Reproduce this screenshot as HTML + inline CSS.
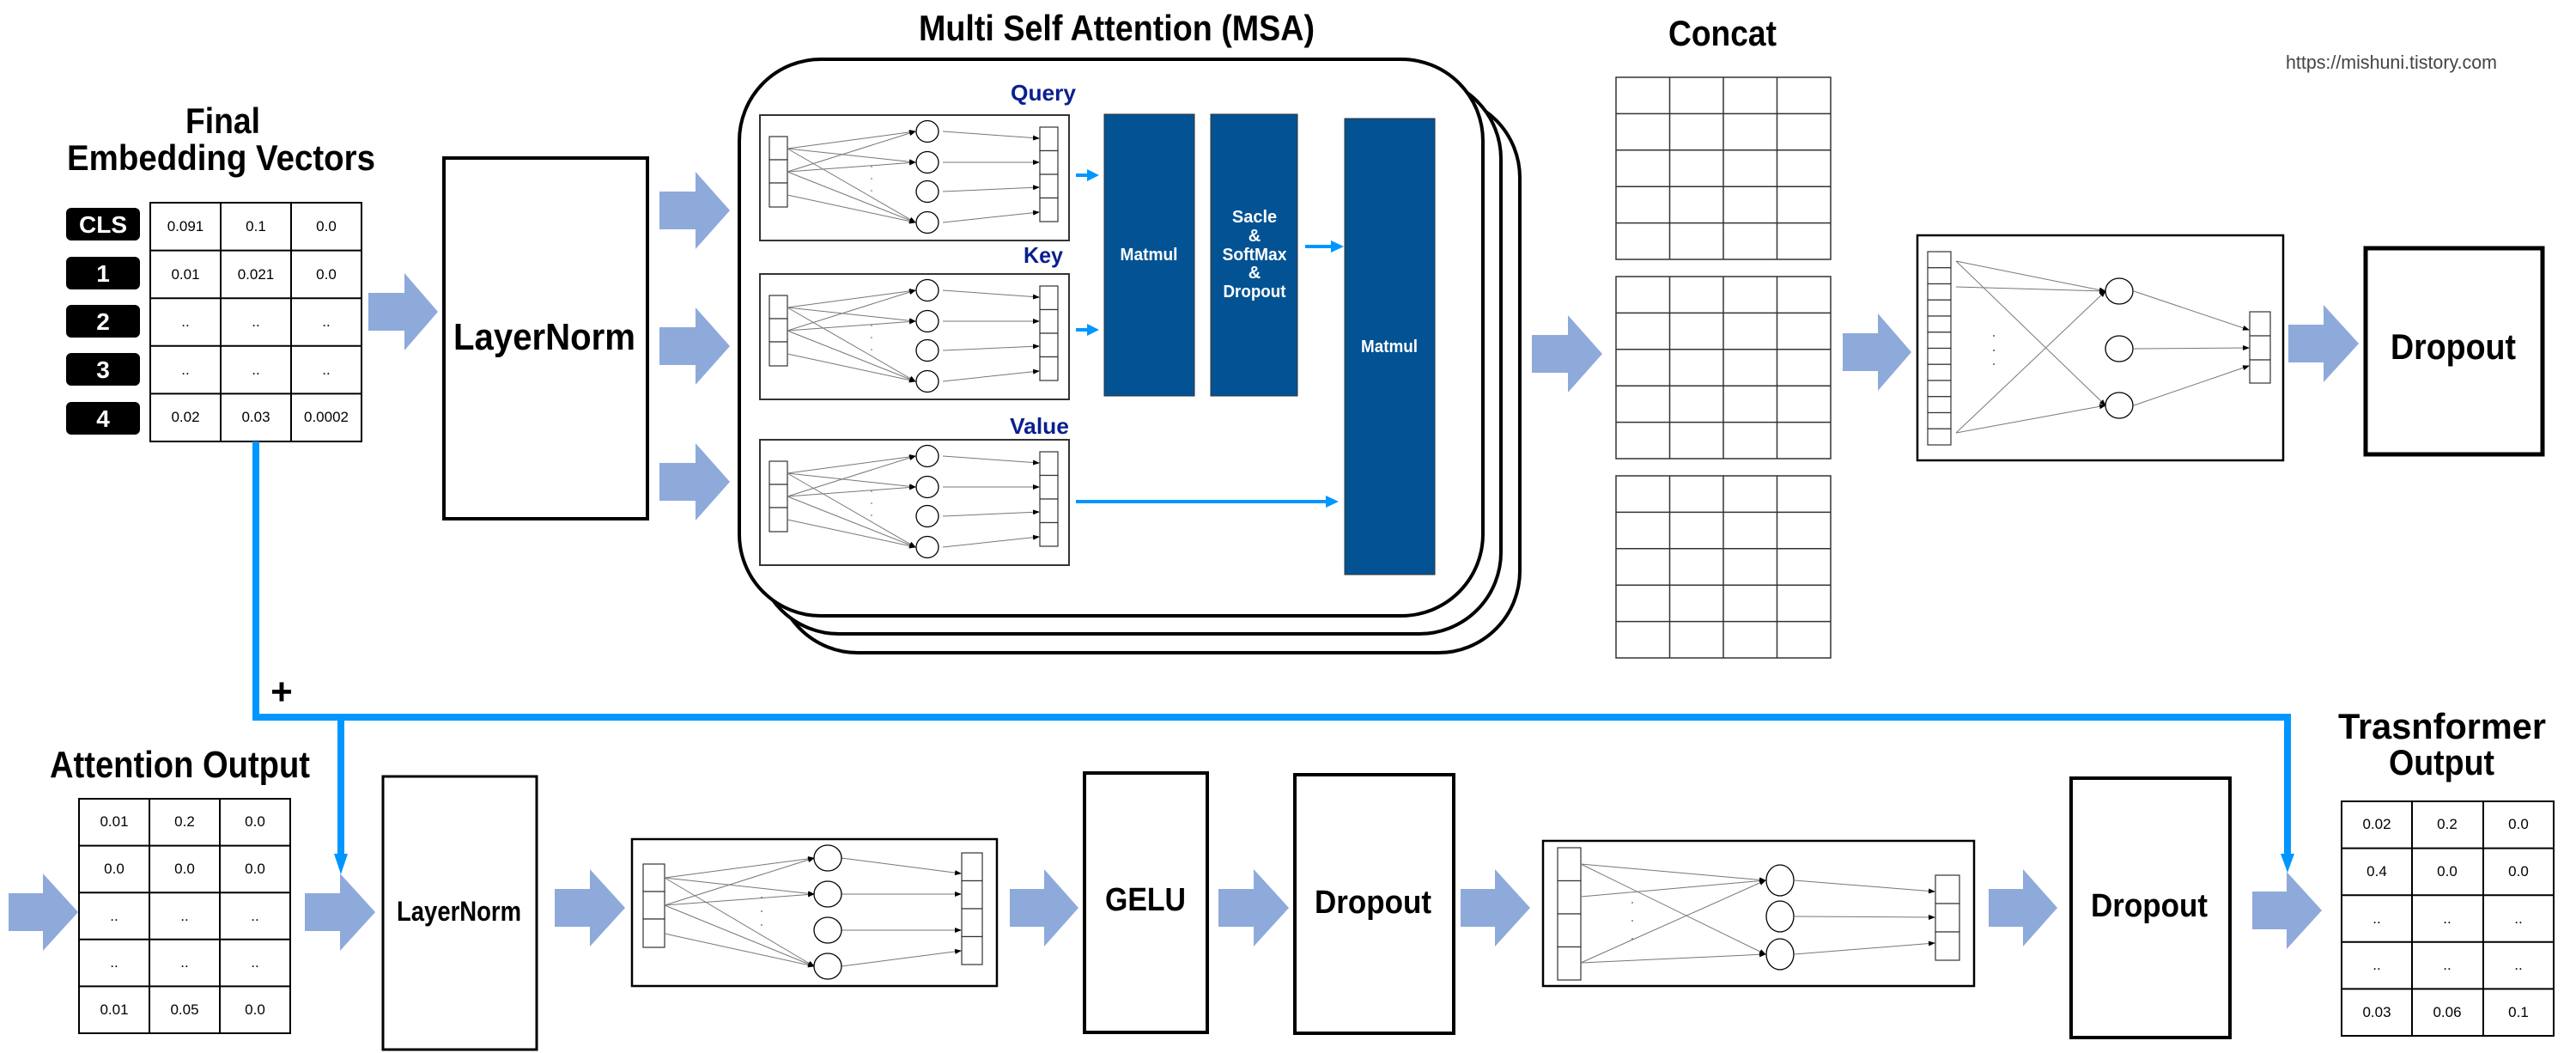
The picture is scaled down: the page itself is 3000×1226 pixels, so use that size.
<!DOCTYPE html>
<html><head><meta charset="utf-8"><style>
html,body{margin:0;padding:0;background:#fff;}
svg{display:block;}
text{font-family:"Liberation Sans",sans-serif;}
.t{font-weight:bold;fill:#000;}
.n{font-size:17px;fill:#000;text-anchor:middle;}
.w{font-weight:bold;fill:#fff;text-anchor:middle;}
.q{font-weight:bold;fill:#0a1f8f;font-size:26px;}
.ar{fill:#8eaadb;}
.ln{stroke:#777;stroke-width:1;fill:none;}
.cell{fill:#fff;stroke:#333;stroke-width:1.2;}
</style></head><body>
<svg width="3000" height="1226" viewBox="0 0 3000 1226" xmlns="http://www.w3.org/2000/svg">
<defs>
<marker id="m" markerWidth="8" markerHeight="8" refX="7" refY="4" orient="auto" markerUnits="userSpaceOnUse"><path d="M0,1 L8,4 L0,7 z" fill="#000"/></marker>
<g id="qkv">
<rect x="0" y="0" width="360" height="146" fill="#fff" stroke="#333" stroke-width="2"/>
<rect class="cell" x="11" y="25" width="21" height="27"/><rect class="cell" x="11" y="52" width="21" height="27"/><rect class="cell" x="11" y="79" width="21" height="28"/>
<g class="ln" marker-end="url(#m)">
<path d="M32,39 L181,19"/><path d="M32,39 L181,55"/><path d="M32,39 L181,125"/>
<path d="M32,66 L181,19"/><path d="M32,66 L181,55"/><path d="M32,66 L181,125"/>
<path d="M32,93 L181,125"/>
<path d="M213,19 L325,27"/><path d="M213,55 L325,55"/><path d="M213,89 L325,84"/><path d="M213,125 L325,113"/>
</g>
<g fill="#fff" stroke="#000" stroke-width="1.3"><ellipse cx="195" cy="19" rx="13" ry="12.5"/><ellipse cx="195" cy="55" rx="13" ry="12.5"/><ellipse cx="195" cy="89" rx="13" ry="12.5"/><ellipse cx="195" cy="125" rx="13" ry="12.5"/></g>
<g fill="#555"><circle cx="130" cy="60" r="0.8"/><circle cx="130" cy="74" r="0.8"/><circle cx="130" cy="88" r="0.8"/></g>
<rect class="cell" x="326" y="14" width="21" height="27.5"/><rect class="cell" x="326" y="41.5" width="21" height="27.5"/><rect class="cell" x="326" y="69" width="21" height="27.5"/><rect class="cell" x="326" y="96.5" width="21" height="27.5"/>
</g>
</defs>

<!-- Titles -->
<text class="t" x="216" y="155" font-size="42" textLength="87" lengthAdjust="spacingAndGlyphs">Final</text>
<text class="t" x="78" y="198" font-size="42" textLength="359" lengthAdjust="spacingAndGlyphs">Embedding Vectors</text>
<text class="t" x="1070" y="47" font-size="42" textLength="461" lengthAdjust="spacingAndGlyphs">Multi Self Attention (MSA)</text>
<text class="t" x="1943" y="53" font-size="42" textLength="126" lengthAdjust="spacingAndGlyphs">Concat</text>
<text x="2662" y="80" font-size="22" fill="#444" textLength="246" lengthAdjust="spacingAndGlyphs">https://mishuni.tistory.com</text>

<!-- Badges -->
<g fill="#000">
<rect x="77" y="242" width="86" height="38" rx="6"/><rect x="77" y="299" width="86" height="38" rx="6"/><rect x="77" y="355" width="86" height="38" rx="6"/><rect x="77" y="411" width="86" height="38" rx="6"/><rect x="77" y="468" width="86" height="38" rx="6"/>
</g>
<g class="w" font-size="28" font-weight="normal">
<text x="120" y="271">CLS</text><text x="120" y="328">1</text><text x="120" y="384">2</text><text x="120" y="440">3</text><text x="120" y="497">4</text>
</g>

<!-- Embedding table -->
<g fill="none" stroke="#000" stroke-width="2">
<rect x="175" y="236" width="246" height="278"/>
<path d="M257,236V514M339,236V514M175,291.6H421M175,347.2H421M175,402.8H421M175,458.4H421"/>
</g>
<g class="n">
<text x="216" y="269">0.091</text><text x="298" y="269">0.1</text><text x="380" y="269">0.0</text>
<text x="216" y="325">0.01</text><text x="298" y="325">0.021</text><text x="380" y="325">0.0</text>
<text x="216" y="380">..</text><text x="298" y="380">..</text><text x="380" y="380">..</text>
<text x="216" y="436">..</text><text x="298" y="436">..</text><text x="380" y="436">..</text>
<text x="216" y="491">0.02</text><text x="298" y="491">0.03</text><text x="380" y="491">0.0002</text>
</g>

<!-- LayerNorm 1 -->
<rect x="517" y="184" width="237" height="420" fill="#fff" stroke="#000" stroke-width="4"/>
<text class="t" x="528" y="407" font-size="44" textLength="212" lengthAdjust="spacingAndGlyphs">LayerNorm</text>

<!-- big arrows -->
<g class="ar">
<polygon points="429,341 471,341 471,318 510,363 471,408 471,385 429,385"/>
<polygon points="768,223 810,223 810,200 850,245 810,290 810,267 768,267"/>
<polygon points="768,381 810,381 810,358 850,403 810,448 810,425 768,425"/>
<polygon points="768,539 810,539 810,516 850,561 810,606 810,583 768,583"/>
<polygon points="1784,390 1826,390 1826,367 1866,412 1826,457 1826,434 1784,434"/>
<polygon points="2146,388 2187,388 2187,365 2226,410 2187,455 2187,432 2146,432"/>
<polygon points="2665,378 2706,378 2706,355 2747,400 2706,445 2706,422 2665,422"/>
<polygon points="10,1040 50,1040 50,1017 91,1062 50,1107 50,1084 10,1084"/>
<polygon points="355,1040 396,1040 396,1017 437,1062 396,1107 396,1084 355,1084"/>
<polygon points="646,1035 687,1035 687,1012 728,1057 687,1102 687,1079 646,1079"/>
<polygon points="1176,1035 1216,1035 1216,1012 1256,1057 1216,1102 1216,1079 1176,1079"/>
<polygon points="1419,1035 1460,1035 1460,1012 1501,1057 1460,1102 1460,1079 1419,1079"/>
<polygon points="1701,1035 1741,1035 1741,1012 1782,1057 1741,1102 1741,1079 1701,1079"/>
<polygon points="2316,1035 2356,1035 2356,1012 2396,1057 2356,1102 2356,1079 2316,1079"/>
<polygon points="2623,1038 2663,1038 2663,1015 2704,1060 2663,1105 2663,1082 2623,1082"/>
</g>

<!-- MSA stacked boxes -->
<rect x="904" y="112" width="866" height="648" rx="95" fill="#fff" stroke="#000" stroke-width="4"/>
<rect x="882" y="90" width="866" height="648" rx="95" fill="#fff" stroke="#000" stroke-width="4"/>
<rect x="861" y="69" width="866" height="648" rx="95" fill="#fff" stroke="#000" stroke-width="4"/>

<text class="q" x="1177" y="117" textLength="76" lengthAdjust="spacingAndGlyphs">Query</text>
<text class="q" x="1192" y="306" textLength="46" lengthAdjust="spacingAndGlyphs">Key</text>
<text class="q" x="1176" y="505" textLength="69" lengthAdjust="spacingAndGlyphs">Value</text>
<use href="#qkv" x="885" y="134"/>
<use href="#qkv" x="885" y="319"/>
<use href="#qkv" x="885" y="512"/>

<g fill="#035394" stroke="#333" stroke-width="1">
<rect x="1286" y="133" width="105" height="328"/>
<rect x="1410" y="133" width="101" height="328"/>
<rect x="1566" y="138" width="105" height="531"/>
</g>
<g class="w" font-size="20">
<text x="1338" y="303" textLength="67" lengthAdjust="spacingAndGlyphs">Matmul</text>
<text x="1461" y="259">Sacle</text>
<text x="1461" y="281">&amp;</text>
<text x="1461" y="303" textLength="75" lengthAdjust="spacingAndGlyphs">SoftMax</text>
<text x="1461" y="324">&amp;</text>
<text x="1461" y="346" textLength="73" lengthAdjust="spacingAndGlyphs">Dropout</text>
<text x="1618" y="410" textLength="66" lengthAdjust="spacingAndGlyphs">Matmul</text>
</g>
<g stroke="#0096ff" stroke-width="4" fill="#0096ff">
<path d="M1253,204H1268"/><polygon points="1266,197 1280,204 1266,211" stroke="none"/>
<path d="M1253,384H1268"/><polygon points="1266,377 1280,384 1266,391" stroke="none"/>
<path d="M1520,287H1552"/><polygon points="1550,280 1565,287 1550,294" stroke="none"/>
<path d="M1253,584H1546"/><polygon points="1544,577 1559,584 1544,591" stroke="none"/>
</g>

<!-- Concat grids -->
<g fill="none" stroke="#333" stroke-width="1.5">
<rect x="1882" y="90" width="250" height="212"/><path d="M1944.5,90V302M2007,90V302M2069.5,90V302M1882,132.4H2132M1882,174.8H2132M1882,217.2H2132M1882,259.6H2132"/>
<rect x="1882" y="322" width="250" height="212"/><path d="M1944.5,322V534M2007,322V534M2069.5,322V534M1882,364.4H2132M1882,406.8H2132M1882,449.2H2132M1882,491.6H2132"/>
<rect x="1882" y="554" width="250" height="212"/><path d="M1944.5,554V766M2007,554V766M2069.5,554V766M1882,596.4H2132M1882,638.8H2132M1882,681.2H2132M1882,723.6H2132"/>
</g>

<!-- Concat NN -->
<g transform="translate(2233,274)">
<rect x="0" y="0" width="426" height="262" fill="#fff" stroke="#000" stroke-width="2.5"/>
<g class="cell"><rect x="12" y="19" width="27" height="18.75"/><rect x="12" y="37.75" width="27" height="18.75"/><rect x="12" y="56.5" width="27" height="18.75"/><rect x="12" y="75.25" width="27" height="18.75"/><rect x="12" y="94" width="27" height="18.75"/><rect x="12" y="112.75" width="27" height="18.75"/><rect x="12" y="131.5" width="27" height="18.75"/><rect x="12" y="150.25" width="27" height="18.75"/><rect x="12" y="169" width="27" height="18.75"/><rect x="12" y="187.75" width="27" height="18.75"/><rect x="12" y="206.5" width="27" height="18.75"/><rect x="12" y="225.25" width="27" height="18.75"/></g>
<g class="ln" marker-end="url(#m)">
<path d="M45,30 L219,65"/><path d="M45,60 L219,65"/><path d="M45,30 L219,198"/><path d="M45,230 L219,65"/><path d="M45,230 L219,198"/>
<path d="M252,65 L386,110"/><path d="M252,132 L386,131"/><path d="M252,198 L386,152"/>
</g>
<g fill="#fff" stroke="#000" stroke-width="1.3"><ellipse cx="235" cy="65" rx="16" ry="15"/><ellipse cx="235" cy="132" rx="16" ry="15"/><ellipse cx="235" cy="198" rx="16" ry="15"/></g>
<g fill="#555"><circle cx="89" cy="117" r="1"/><circle cx="89" cy="134" r="1"/><circle cx="89" cy="150" r="1"/></g>
<g class="cell"><rect x="387" y="89" width="24" height="28"/><rect x="387" y="117" width="24" height="28"/><rect x="387" y="145" width="24" height="27"/></g>
</g>

<!-- Dropout top -->
<rect x="2755" y="289" width="206" height="240" fill="#fff" stroke="#000" stroke-width="5"/>
<text class="t" x="2784" y="418" font-size="42" textLength="146" lengthAdjust="spacingAndGlyphs">Dropout</text>

<!-- skip connection -->
<g fill="none" stroke="#0096ff" stroke-width="8">
<path d="M298,514 V835 H2664 V998"/>
<path d="M397,835 V998"/>
</g>
<g fill="#0096ff">
<polygon points="389,994 405,994 397,1018"/>
<polygon points="2656,994 2672,994 2664,1016"/>
</g>
<text class="t" x="328" y="820" font-size="44" text-anchor="middle">+</text>

<!-- Attention Output -->
<text class="t" x="58" y="905" font-size="44" textLength="303" lengthAdjust="spacingAndGlyphs">Attention Output</text>
<g fill="none" stroke="#000" stroke-width="2">
<rect x="92" y="930" width="246" height="273"/>
<path d="M174,930V1203M256,930V1203M92,984.6H338M92,1039.2H338M92,1093.8H338M92,1148.4H338"/>
</g>
<g class="n">
<text x="133" y="962">0.01</text><text x="215" y="962">0.2</text><text x="297" y="962">0.0</text>
<text x="133" y="1017">0.0</text><text x="215" y="1017">0.0</text><text x="297" y="1017">0.0</text>
<text x="133" y="1072">..</text><text x="215" y="1072">..</text><text x="297" y="1072">..</text>
<text x="133" y="1126">..</text><text x="215" y="1126">..</text><text x="297" y="1126">..</text>
<text x="133" y="1181">0.01</text><text x="215" y="1181">0.05</text><text x="297" y="1181">0.0</text>
</g>

<!-- LayerNorm 2 -->
<rect x="446" y="904" width="179" height="318" fill="#fff" stroke="#000" stroke-width="3"/>
<text class="t" x="462" y="1072" font-size="32" textLength="145" lengthAdjust="spacingAndGlyphs">LayerNorm</text>

<!-- NN2 -->
<g transform="translate(736,977)">
<rect x="0" y="0" width="425" height="171" fill="#fff" stroke="#000" stroke-width="2.5"/>
<g class="cell"><rect x="13" y="29" width="25" height="32"/><rect x="13" y="61" width="25" height="32"/><rect x="13" y="93" width="25" height="33"/></g>
<g class="ln" marker-end="url(#m)">
<path d="M38,45 L212,22"/><path d="M38,45 L212,64"/><path d="M38,45 L212,148"/>
<path d="M38,77 L212,22"/><path d="M38,77 L212,64"/><path d="M38,77 L212,148"/>
<path d="M38,110 L212,148"/>
<path d="M244,22 L383,40"/><path d="M244,64 L383,64"/><path d="M244,106 L383,106"/><path d="M244,148 L383,130"/>
</g>
<g fill="#fff" stroke="#000" stroke-width="1.3"><ellipse cx="228" cy="22" rx="16" ry="15"/><ellipse cx="228" cy="64" rx="16" ry="15"/><ellipse cx="228" cy="106" rx="16" ry="15"/><ellipse cx="228" cy="148" rx="16" ry="15"/></g>
<g fill="#555"><circle cx="151" cy="68" r="0.9"/><circle cx="151" cy="84" r="0.9"/><circle cx="151" cy="100" r="0.9"/></g>
<g class="cell"><rect x="384" y="16" width="24" height="32.5"/><rect x="384" y="48.5" width="24" height="32.5"/><rect x="384" y="81" width="24" height="32.5"/><rect x="384" y="113.5" width="24" height="32.5"/></g>
</g>

<!-- GELU / Dropout -->
<rect x="1263" y="900" width="143" height="302" fill="#fff" stroke="#000" stroke-width="4"/>
<text class="t" x="1287" y="1060" font-size="38" textLength="94" lengthAdjust="spacingAndGlyphs">GELU</text>
<rect x="1508" y="902" width="185" height="301" fill="#fff" stroke="#000" stroke-width="4"/>
<text class="t" x="1531" y="1063" font-size="38" textLength="136" lengthAdjust="spacingAndGlyphs">Dropout</text>

<!-- NN3 -->
<g transform="translate(1797,979)">
<rect x="0" y="0" width="502" height="169" fill="#fff" stroke="#000" stroke-width="2.5"/>
<g class="cell"><rect x="17" y="8" width="27" height="38.5"/><rect x="17" y="46.5" width="27" height="38.5"/><rect x="17" y="85" width="27" height="38.5"/><rect x="17" y="123.5" width="27" height="38.5"/></g>
<g class="ln" marker-end="url(#m)">
<path d="M44,27 L259,46"/><path d="M44,27 L259,132"/><path d="M44,65 L259,46"/><path d="M44,142 L259,46"/><path d="M44,142 L259,132"/>
<path d="M293,46 L456,59"/><path d="M293,88 L456,89"/><path d="M293,132 L456,119"/>
</g>
<g fill="#fff" stroke="#000" stroke-width="1.3"><ellipse cx="276" cy="46" rx="16" ry="18"/><ellipse cx="276" cy="88" rx="16" ry="18"/><ellipse cx="276" cy="132" rx="16" ry="18"/></g>
<g fill="#555"><circle cx="104" cy="72" r="0.9"/><circle cx="104" cy="93" r="0.9"/><circle cx="104" cy="114" r="0.9"/></g>
<g class="cell"><rect x="457" y="40" width="28" height="33"/><rect x="457" y="73" width="28" height="33"/><rect x="457" y="106" width="28" height="33"/></g>
</g>

<!-- Dropout 3 -->
<rect x="2412" y="906" width="185" height="302" fill="#fff" stroke="#000" stroke-width="4"/>
<text class="t" x="2435" y="1067" font-size="38" textLength="136" lengthAdjust="spacingAndGlyphs">Dropout</text>

<!-- Transformer output -->
<text class="t" x="2723" y="860" font-size="42" textLength="242" lengthAdjust="spacingAndGlyphs">Trasnformer</text>
<text class="t" x="2782" y="902" font-size="42" textLength="123" lengthAdjust="spacingAndGlyphs">Output</text>
<g fill="none" stroke="#000" stroke-width="2">
<rect x="2727" y="933" width="247" height="273"/>
<path d="M2809,933V1206M2892,933V1206M2727,987.6H2974M2727,1042.2H2974M2727,1096.8H2974M2727,1151.4H2974"/>
</g>
<g class="n">
<text x="2768" y="965">0.02</text><text x="2850" y="965">0.2</text><text x="2933" y="965">0.0</text>
<text x="2768" y="1020">0.4</text><text x="2850" y="1020">0.0</text><text x="2933" y="1020">0.0</text>
<text x="2768" y="1075">..</text><text x="2850" y="1075">..</text><text x="2933" y="1075">..</text>
<text x="2768" y="1129">..</text><text x="2850" y="1129">..</text><text x="2933" y="1129">..</text>
<text x="2768" y="1184">0.03</text><text x="2850" y="1184">0.06</text><text x="2933" y="1184">0.1</text>
</g>
</svg>
</body></html>
